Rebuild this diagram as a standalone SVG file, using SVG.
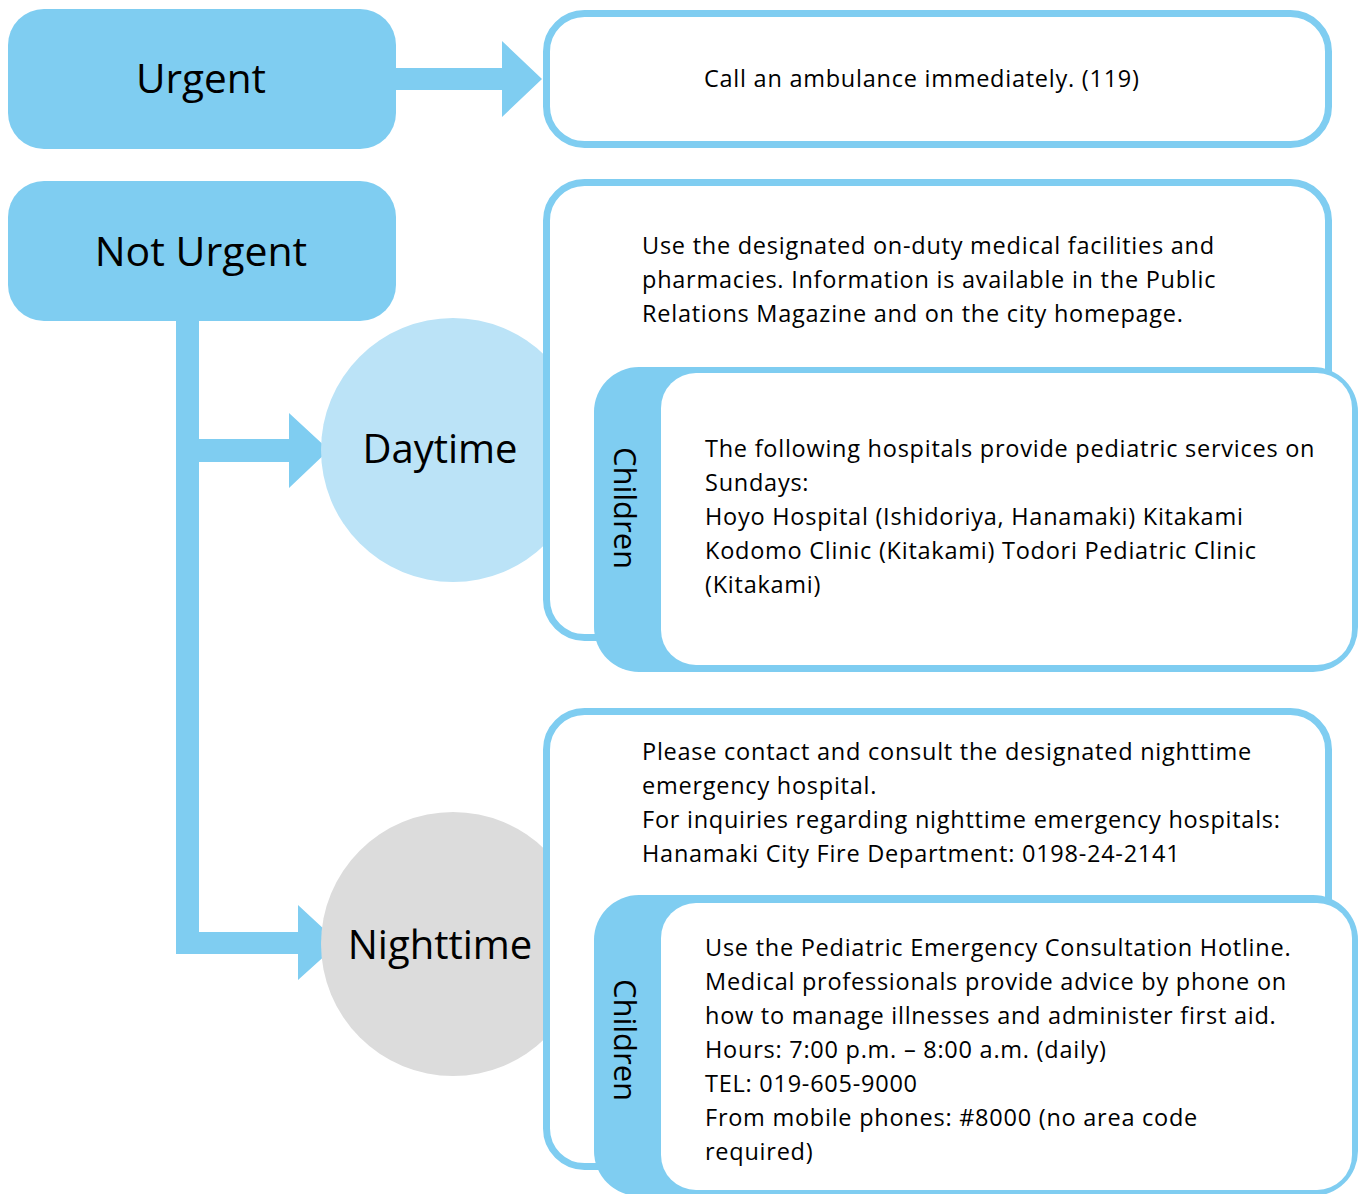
<svg xmlns="http://www.w3.org/2000/svg" width="1363" height="1194" viewBox="0 0 1363 1194">
<style>
.blue{fill:#7fcdf1}
.title{font-family:"Open Sans","Noto Sans",sans-serif;fill:#000}
.body{font-family:"Open Sans","Noto Sans",sans-serif;font-size:23.5px;letter-spacing:0.75px;fill:#000}
.box{fill:#fff;stroke:#7fcdf1;stroke-width:7}
</style>
<rect width="1363" height="1194" fill="#fff"/>
<g id="connectors" class="blue">
  <polygon points="396,68 502,68 502,41 542,79 502,117 502,90 396,90"/>
  <polygon points="176,318 199,318 199,439 289,439 289,413 329,450 289,488 289,462 199,462 199,932 298,932 298,905 339,943 298,980 298,954 176,954"/>
</g>
<g id="urgent">
  <rect class="blue" x="8" y="9" width="388" height="140" rx="36"/>
  <text class="title" x="201" y="93" font-size="40.5" text-anchor="middle">Urgent</text>
</g>
<g id="not-urgent">
  <rect class="blue" x="8" y="181" width="388" height="140" rx="36"/>
  <text class="title" x="201" y="266" font-size="41" text-anchor="middle">Not Urgent</text>
</g>
<g id="daytime">
  <circle cx="453" cy="450" r="132" fill="#bbe3f7"/>
  <text class="title" x="440" y="463" font-size="40" text-anchor="middle">Daytime</text>
</g>
<g id="nighttime">
  <circle cx="453" cy="944" r="132" fill="#dcdcdc"/>
  <text class="title" x="440" y="959" font-size="40" text-anchor="middle">Nighttime</text>
</g>
<g id="ambulance">
  <rect class="box" x="546.5" y="13.5" width="782" height="131" rx="38"/>
  <text class="body" x="704" y="87">Call an ambulance immediately. (119)</text>
</g>
<g id="daytime-info">
  <rect class="box" x="546.5" y="182.5" width="782" height="455" rx="38"/>
  <text class="body" x="642" y="254">Use the designated on-duty medical facilities and</text>
  <text class="body" x="642" y="288">pharmacies. Information is available in the Public</text>
  <text class="body" x="642" y="322">Relations Magazine and on the city homepage.</text>
</g>
<g id="daytime-children">
  <rect class="blue" x="594" y="367" width="764" height="305" rx="45"/>
  <rect fill="#fff" x="661" y="373" width="691" height="292" rx="35"/>
  <text class="title" font-size="31" text-anchor="middle" transform="translate(614,508) rotate(90)">Children</text>
  <text class="body" x="705" y="457">The following hospitals provide pediatric services on</text>
  <text class="body" x="705" y="491">Sundays:</text>
  <text class="body" x="705" y="525">Hoyo Hospital (Ishidoriya, Hanamaki) Kitakami</text>
  <text class="body" x="705" y="559">Kodomo Clinic (Kitakami) Todori Pediatric Clinic</text>
  <text class="body" x="705" y="593">(Kitakami)</text>
</g>
<g id="nighttime-info">
  <rect class="box" x="546.5" y="711.5" width="782" height="455" rx="38"/>
  <text class="body" x="642" y="760">Please contact and consult the designated nighttime</text>
  <text class="body" x="642" y="794">emergency hospital.</text>
  <text class="body" x="642" y="828">For inquiries regarding nighttime emergency hospitals:</text>
  <text class="body" x="642" y="862">Hanamaki City Fire Department: 0198-24-2141</text>
</g>
<g id="nighttime-children">
  <rect class="blue" x="594" y="895" width="764" height="301" rx="45"/>
  <rect fill="#fff" x="661" y="903" width="691" height="287" rx="35"/>
  <text class="title" font-size="31" text-anchor="middle" transform="translate(614,1040) rotate(90)">Children</text>
  <text class="body" x="705" y="956">Use the Pediatric Emergency Consultation Hotline.</text>
  <text class="body" x="705" y="990">Medical professionals provide advice by phone on</text>
  <text class="body" x="705" y="1024">how to manage illnesses and administer first aid.</text>
  <text class="body" x="705" y="1058">Hours: 7:00 p.m. – 8:00 a.m. (daily)</text>
  <text class="body" x="705" y="1092">TEL: 019-605-9000</text>
  <text class="body" x="705" y="1126">From mobile phones: #8000 (no area code</text>
  <text class="body" x="705" y="1160">required)</text>
</g>
</svg>
